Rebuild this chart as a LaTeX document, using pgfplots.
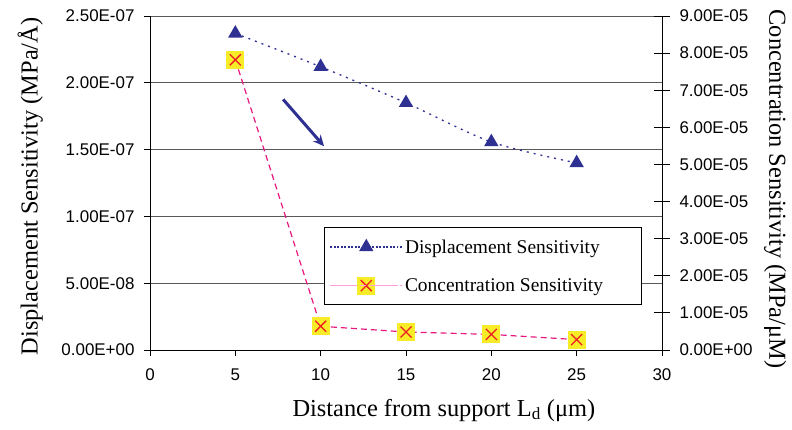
\documentclass[border=0pt]{standalone}
\usepackage{fontspec}
\setmainfont{Liberation Serif}
\setsansfont{Liberation Sans}
\usepackage{pgfplots}
\pgfplotsset{compat=1.18}
\usetikzlibrary{arrows.meta}
\definecolor{dnavy}{RGB}{46,49,146}
\definecolor{dpink}{RGB}{230,23,127}
\definecolor{lpink}{RGB}{255,160,225}
\definecolor{myyellow}{RGB}{248,236,40}
\definecolor{myred}{RGB}{237,28,36}
\pgfdeclareplotmark{yx}{%
  \pgfsetfillcolor{myyellow}%
  \pgfpathrectangle{\pgfpoint{-9bp}{-9bp}}{\pgfpoint{18bp}{18bp}}%
  \pgfusepathqfill
  \pgfsetstrokecolor{myred}\pgfsetlinewidth{1.3bp}\pgfsetdash{}{0pt}%
  \pgfpathmoveto{\pgfpoint{-5.5bp}{-5.5bp}}\pgfpathlineto{\pgfpoint{5.5bp}{5.5bp}}%
  \pgfpathmoveto{\pgfpoint{-5.5bp}{5.5bp}}\pgfpathlineto{\pgfpoint{5.5bp}{-5.5bp}}%
  \pgfusepathqstroke
}
\pgfplotsset{
  common/.style={
    scale only axis, width=512bp, height=334bp,
    xmin=0, xmax=30,
    tick label style={font=\sffamily\fontsize{17}{19}\selectfont},
    label style={font=\fontsize{24.5}{28}\selectfont},
    axis line style={black, line width=0.8bp, -},
    tick style={black, line width=0.8bp},
  }
}
\begin{document}
\begin{tikzpicture}
\begin{axis}[common, name=ax1,
  ymin=0, ymax=2.5e-7,
  axis y line*=left, axis x line*=bottom,
  xtick={0,5,10,15,20,25,30}, xticklabels={0,5,10,15,20,25,30},
  ytick={0,5e-8,1e-7,1.5e-7,2e-7,2.5e-7},
  yticklabels={0.00E+00,5.00E-08,1.00E-07,1.50E-07,2.00E-07,2.50E-07},
  scaled y ticks=false,
  tick align=outside, major tick length=6bp,
  ymajorgrids, grid style={line width=0.8bp, color=black!65},
  xticklabel style={yshift=-9bp},
  yticklabel style={xshift=-6bp},
  xlabel={Distance from support L\textsubscript{d} (μm)},
  xlabel style={at={(axis description cs:0.574,-0.18)}, anchor=center},
  ylabel={Displacement Sensitivity (MPa/Å)},
  ylabel style={at={(axis description cs:-0.234,0.49)}, anchor=center, rotate=0},
  clip=false]
\addplot[dnavy, dash pattern=on 2bp off 5bp, line width=1.3bp, smooth,
  mark=triangle*, mark size=7bp, mark options={solid, fill=dnavy}]
  coordinates {(5,2.37e-7) (10,2.12e-7) (15,1.85e-7) (20,1.557e-7) (25,1.40e-7)};
\draw[dnavy, line width=3bp, -{Stealth[length=11bp,width=10bp]}]
  (axis cs:7.8,1.876e-7) -- (axis cs:10.2,1.525e-7);
\end{axis}
\begin{axis}[common, name=ax2,
  ymin=0, ymax=9e-5,
  axis y line*=right, axis x line=none,
  ytick={0,1e-5,2e-5,3e-5,4e-5,5e-5,6e-5,7e-5,8e-5,9e-5},
  yticklabels={0.00E+00,1.00E-05,2.00E-05,3.00E-05,4.00E-05,5.00E-05,6.00E-05,7.00E-05,8.00E-05,9.00E-05},
  scaled y ticks=false,
  tick align=center, major tick length=16bp,
  yticklabel style={xshift=6bp},
  ylabel={Concentration Sensitivity (MPa/μM)},
  ylabel style={at={(axis description cs:1.221,0.482)}, anchor=center, rotate=180},
  legend image code/.code={\draw[mark repeat=2,mark phase=2,#1] plot coordinates {(0bp,0bp)(32bp,0bp)(64bp,0bp)};
    \path (-4bp,0bp) -- (68bp,0bp);},
  legend cell align=left,
  legend style={at={(rel axis cs:0.34,0.368)}, anchor=north west, draw=black, line width=0.9bp,
    fill=white, font=\fontsize{19.5}{22}\selectfont, row sep=20bp, inner xsep=5bp, inner ysep=10bp},
  clip=false]
\addlegendimage{dnavy, dash pattern=on 2bp off 5bp, line width=1.3bp, mark=triangle*, mark size=7bp, mark options={solid, fill=dnavy}}
\addlegendentry{Displacement Sensitivity}
\addplot[dpink, dash pattern=on 6bp off 4bp, line width=1.2bp, sharp plot, mark=yx, forget plot]
  coordinates {(5,7.82e-5) (10,0.64e-5) (15,0.485e-5) (20,0.42e-5) (25,0.28e-5)};
\addlegendimage{lpink, dash pattern=on 6bp off 4bp, line width=1.5bp, mark=yx}
\addlegendentry{Concentration Sensitivity\hspace*{31bp}}
\end{axis}
\pgfresetboundingbox
\path ([shift={(-150bp,-80bp)}]ax1.south west) rectangle ([shift={(130bp,16bp)}]ax1.north east);
\end{tikzpicture}
\end{document}
